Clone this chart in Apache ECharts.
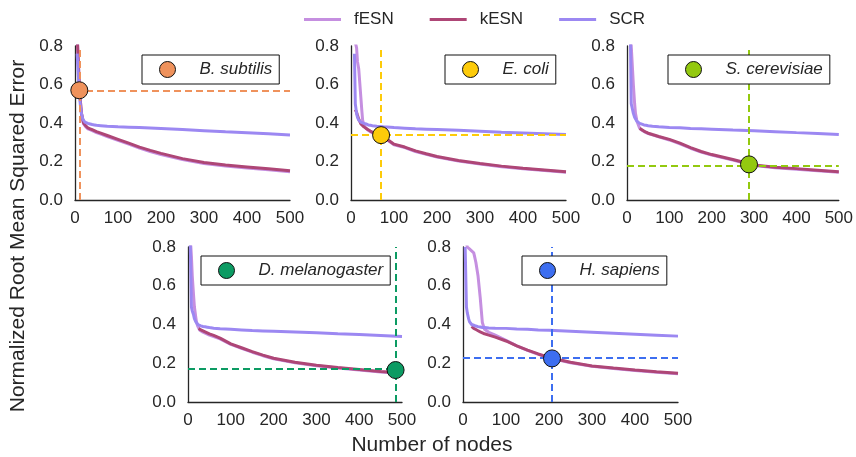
<!DOCTYPE html>
<html>
<head>
<meta charset="utf-8">
<title>NRMSE vs nodes</title>
<script src="https://cdn.jsdelivr.net/npm/echarts@6/dist/echarts.min.js"></script>
<style>
    html, body { margin: 0; padding: 0; background: #fff; }
    #chart { width: 856px; height: 457px; }
</style>
</head>
<body>
<div id="chart"></div>
<script>
// x positions (number of nodes) shared by every curve
var NODES = [5, 8, 10, 13, 15, 18, 20, 23, 25, 27, 30, 35, 40, 45, 50, 60, 75, 100, 125, 150, 175, 200, 250, 300, 350, 400, 450, 500];

var SPECIES = ['B. subtilis', 'E. coli', 'S. cerevisiae', 'D. melanogaster', 'H. sapiens'];
var MARK_X = [10, 70, 288, 485, 207];
var MARK_Y = [0.57, 0.337, 0.185, 0.165, 0.225];

var Y_TICKS = [0.0, 0.2, 0.4, 0.6, 0.8];
var X_TICKS = [0, 100, 200, 300, 400, 500];

// B. subtilis
var FESN_BS = [0.86,0.70,0.60,0.50,0.45,0.41,0.395,0.385,0.38,0.375,0.37,0.365,0.36,0.355,0.35,0.342,0.33,0.31,0.29,0.27,0.252,0.236,0.21,0.19,0.177,0.166,0.157,0.147];
var KESN_BS = [0.86,0.70,0.60,0.50,0.45,0.42,0.40,0.39,0.385,0.38,0.375,0.37,0.365,0.36,0.355,0.347,0.335,0.315,0.295,0.275,0.258,0.242,0.215,0.195,0.182,0.172,0.162,0.152];
var SCR_BS  = [0.76,0.64,0.56,0.48,0.45,0.42,0.41,0.405,0.403,0.40,0.398,0.395,0.392,0.39,0.388,0.386,0.383,0.38,0.378,0.376,0.374,0.372,0.366,0.36,0.354,0.349,0.344,0.338];

// E. coli
var FESN_EC = [null,0.85,0.82,0.79,0.72,0.68,0.62,0.53,0.47,0.415,0.39,0.372,0.362,0.355,0.349,0.342,0.327,0.287,0.272,0.252,0.237,0.223,0.202,0.187,0.173,0.162,0.153,0.144];
var KESN_EC = [null,null,0.47,0.455,0.44,0.42,0.41,0.395,0.39,0.385,0.38,0.372,0.365,0.358,0.352,0.345,0.33,0.29,0.275,0.255,0.24,0.226,0.205,0.19,0.176,0.165,0.156,0.147];
var SCR_EC  = [null,0.76,0.50,0.45,0.43,0.415,0.41,0.405,0.40,0.40,0.398,0.395,0.39,0.388,0.386,0.383,0.38,0.376,0.373,0.37,0.368,0.366,0.362,0.357,0.352,0.348,0.344,0.34];

// S. cerevisiae
var FESN_SC = [null,0.86,0.80,0.68,0.60,0.50,0.45,0.415,0.40,0.39,0.372,0.363,0.356,0.35,0.345,0.338,0.328,0.312,0.292,0.269,0.249,0.233,0.207,0.179,0.167,0.16,0.152,0.144];
var KESN_SC = [null,null,null,null,null,null,null,null,null,null,0.372,0.365,0.358,0.352,0.347,0.34,0.33,0.315,0.295,0.272,0.252,0.236,0.21,0.182,0.17,0.163,0.155,0.147];
var SCR_SC  = [null,0.85,0.50,0.47,0.45,0.43,0.42,0.41,0.405,0.40,0.398,0.394,0.39,0.388,0.386,0.383,0.38,0.377,0.375,0.372,0.37,0.368,0.363,0.36,0.355,0.35,0.346,0.34];

// D. melanogaster
var FESN_DM = [0.86,0.75,0.65,0.55,0.49,0.44,0.41,0.39,0.38,0.372,0.365,0.36,0.355,0.35,0.345,0.338,0.326,0.297,0.277,0.257,0.239,0.223,0.202,0.187,0.175,0.165,0.155,0.147];
var KESN_DM = [null,null,null,null,null,null,null,null,0.38,0.375,0.372,0.367,0.362,0.357,0.352,0.344,0.33,0.30,0.28,0.26,0.242,0.226,0.205,0.19,0.178,0.168,0.158,0.15];
var SCR_DM  = [0.85,0.49,0.47,0.45,0.43,0.415,0.405,0.40,0.398,0.395,0.393,0.39,0.388,0.386,0.384,0.381,0.378,0.375,0.372,0.369,0.367,0.365,0.361,0.357,0.352,0.348,0.343,0.338];

// H. sapiens
var FESN_HS = [0.86,0.82,0.80,0.79,0.79,0.785,0.78,0.775,0.77,0.75,0.72,0.65,0.54,0.41,0.375,0.36,0.345,0.318,0.29,0.266,0.246,0.228,0.203,0.184,0.173,0.163,0.154,0.146];
var KESN_HS = [null,null,null,null,null,null,0.39,0.385,0.38,0.377,0.374,0.368,0.362,0.357,0.352,0.345,0.335,0.315,0.29,0.268,0.248,0.23,0.205,0.186,0.175,0.165,0.156,0.148];
var SCR_HS  = [0.80,0.49,0.46,0.43,0.415,0.405,0.40,0.398,0.396,0.394,0.392,0.389,0.387,0.385,0.384,0.382,0.381,0.38,0.377,0.375,0.372,0.37,0.365,0.36,0.355,0.35,0.345,0.34];

var FESN = [FESN_BS, FESN_EC, FESN_SC, FESN_DM, FESN_HS];
var KESN = [KESN_BS, KESN_EC, KESN_SC, KESN_DM, KESN_HS];
var SCR  = [SCR_BS, SCR_EC, SCR_SC, SCR_DM, SCR_HS];

var LINE_COLORS = { fESN: '#c58fe0', kESN: '#ae4676', SCR: '#9c88f2' };
var MARK_COLORS = ['#ef925c', '#fdcb0a', '#93c90f', '#0c9b63', '#3d6ef0'];

var FONT = 'Liberation Sans, Arial, sans-serif';
var TXT = '#262626';

// panel boxes in px
var GRIDS = [
    { left: 75,  top: 46,  width: 215, height: 154 },
    { left: 351, top: 46,  width: 215, height: 154 },
    { left: 627, top: 46,  width: 215, height: 154 },
    { left: 188, top: 247, width: 214, height: 155 },
    { left: 463, top: 247, width: 215, height: 155 }
];
// inset legend boxes
var BOXES = [
    { left: 142, top: 55 },
    { left: 445, top: 55 },
    { left: 668, top: 55 },
    { left: 201, top: 256 },
    { left: 522, top: 256 }
];

function pairs(ys) {
    var out = [];
    for (var i = 0; i < NODES.length; i++) {
        out.push([NODES[i], ys[i]]);
    }
    return out;
}

var grid = [], xAxis = [], yAxis = [], series = [];
var legend = [{
    data: ['fESN', 'kESN', 'SCR'],
    left: 304, top: 11,
    padding: 0,
    itemGap: 36,
    itemWidth: 37, itemHeight: 3,
    icon: 'rect',
    selectedMode: false,
    textStyle: { fontFamily: FONT, fontSize: 17, color: TXT, padding: [0, 0, 0, 8] }
}];

for (var p = 0; p < 5; p++) {
    grid.push(GRIDS[p]);
    xAxis.push({
        type: 'value', gridIndex: p, min: 0, max: 500, interval: 100,
        axisLine: { show: true, lineStyle: { color: '#262626', width: 1.3 } },
        axisTick: { show: false },
        splitLine: { show: false },
        axisLabel: { fontFamily: FONT, fontSize: 17, color: TXT, margin: 10 }
    });
    yAxis.push({
        type: 'value', gridIndex: p, min: 0, max: 0.8, interval: 0.2,
        axisLine: { show: true, lineStyle: { color: '#262626', width: 1.3 } },
        axisTick: { show: false },
        splitLine: { show: false },
        axisLabel: {
            fontFamily: FONT, fontSize: 17, color: TXT, margin: 12,
            formatter: function (v) { return v.toFixed(1); }
        }
    });
    var lines = [['fESN', FESN[p]], ['kESN', KESN[p]], ['SCR', SCR[p]]];
    lines.forEach(function (l) {
        series.push({
            name: l[0], type: 'line', xAxisIndex: p, yAxisIndex: p,
            data: pairs(l[1]), showSymbol: false, symbol: 'none',
            connectNulls: false, clip: true, z: 2,
            lineStyle: { color: LINE_COLORS[l[0]], width: 3 },
            itemStyle: { color: LINE_COLORS[l[0]] }
        });
    });
    series.push({
        name: SPECIES[p], type: 'scatter', xAxisIndex: p, yAxisIndex: p,
        data: [[MARK_X[p], MARK_Y[p]]],
        symbol: 'circle', symbolSize: 17, z: 4,
        itemStyle: { color: MARK_COLORS[p], borderColor: '#111', borderWidth: 1, opacity: 1 },
        markLine: {
            silent: true, symbol: 'none', z: 3,
            label: { show: false },
            lineStyle: { color: MARK_COLORS[p], type: [7, 4], width: 2 },
            data: [{ xAxis: MARK_X[p] }, { yAxis: MARK_Y[p] }]
        }
    });
    legend.push({
        data: [SPECIES[p]],
        left: BOXES[p].left, top: BOXES[p].top,
        orient: 'horizontal',
        backgroundColor: '#fff',
        borderColor: '#111', borderWidth: 1,
        padding: [6, 7, 6, 17],
        icon: 'circle',
        itemWidth: 16, itemHeight: 16,
        selectedMode: false,
        itemStyle: { borderColor: '#111', borderWidth: 1, opacity: 1 },
        textStyle: { fontFamily: FONT, fontSize: 17, fontStyle: 'italic', color: TXT, padding: [0, 0, 0, 19] }
    });
}

var myChart = echarts.init(document.getElementById('chart'), null, { renderer: 'canvas' });
myChart.setOption({
    animation: false,
    backgroundColor: '#fff',
    grid: grid,
    xAxis: xAxis,
    yAxis: yAxis,
    legend: legend,
    series: series,
    graphic: [
        {
            type: 'text', x: 18, y: 236, rotation: Math.PI / 2,
            style: { text: 'Normalized Root Mean Squared Error', font: '21px ' + FONT, fill: TXT, align: 'center', verticalAlign: 'middle' }
        },
        {
            type: 'text', x: 432, y: 445,
            style: { text: 'Number of nodes', font: '21px ' + FONT, fill: TXT, align: 'center', verticalAlign: 'middle' }
        }
    ]
});
</script>
</body>
</html>
